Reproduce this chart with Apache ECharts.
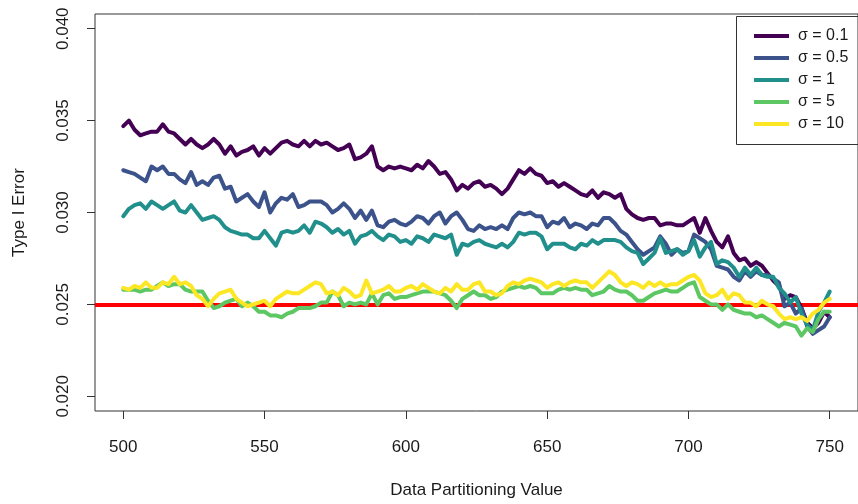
<!DOCTYPE html>
<html>
<head>
<meta charset="utf-8">
<title>Type I Error vs Data Partitioning Value</title>
<script src="https://cdn.jsdelivr.net/npm/echarts@6/dist/echarts.min.js"></script>
<style>
  html, body { margin: 0; padding: 0; background: #fff; }
  #chart { width: 858px; height: 504px; }
</style>
</head>
<body>
<div id="chart"></div>
<script>
// Partitioning values run from 500 to 750 in steps of 2
const partitionStart = 500;
const partitionStep = 2;

const sigmaLabels = ['σ = 0.1', 'σ = 0.5', 'σ = 1', 'σ = 5', 'σ = 10'];
const xTicks = [500, 550, 600, 650, 700, 750];
const yTicks = [0.020, 0.025, 0.030, 0.035, 0.040];
const nominalLevel = 0.025;

const sigma01 = [
  0.0347, 0.0350, 0.0345, 0.0342, 0.0343, 0.0344, 0.0344, 0.0348, 0.0344, 0.0343,
  0.0340, 0.0337, 0.0340, 0.0337, 0.0335, 0.0337, 0.0340, 0.0337, 0.0332, 0.0336,
  0.0331, 0.0333, 0.0334, 0.0336, 0.0331, 0.0335, 0.0332, 0.0335, 0.0338, 0.0339,
  0.0337, 0.0336, 0.0339, 0.0336, 0.0339, 0.0337, 0.0338, 0.0336, 0.0334, 0.0335,
  0.0337, 0.0329, 0.0330, 0.0332, 0.0336, 0.0325, 0.0323, 0.0325, 0.0324, 0.0325,
  0.0324, 0.0323, 0.0326, 0.0324, 0.0328, 0.0325, 0.0321, 0.0322, 0.0318, 0.0312,
  0.0315, 0.0313, 0.0316, 0.0317, 0.0314, 0.0315, 0.0313, 0.0310, 0.0313, 0.0318,
  0.0323, 0.0321, 0.0324, 0.0321, 0.0320, 0.0316, 0.0317, 0.0314, 0.0316, 0.0314,
  0.0312, 0.0310, 0.0309, 0.0312, 0.0308, 0.0311, 0.0310, 0.0308, 0.0310, 0.0302,
  0.0299, 0.0297, 0.0296, 0.0297, 0.0297, 0.0293, 0.0294, 0.0294, 0.0293, 0.0293,
  0.0295, 0.0297, 0.0289, 0.0297, 0.0290, 0.0284, 0.0281, 0.0287, 0.0278, 0.0274,
  0.0275, 0.0271, 0.0273, 0.0271, 0.0267, 0.0263, 0.0260, 0.0253, 0.0255, 0.0254,
  0.0248, 0.0240, 0.0237, 0.0240, 0.0246, 0.0243
];

const sigma05 = [
  0.0323, 0.0322, 0.0321, 0.0319, 0.0317, 0.0325, 0.0323, 0.0325, 0.0321, 0.0321,
  0.0318, 0.0316, 0.0322, 0.0315, 0.0317, 0.0315, 0.0319, 0.0320, 0.0313, 0.0314,
  0.0306, 0.0308, 0.0310, 0.0306, 0.0303, 0.0311, 0.0300, 0.0305, 0.0308, 0.0307,
  0.0310, 0.0303, 0.0304, 0.0306, 0.0306, 0.0306, 0.0304, 0.0300, 0.0302, 0.0305,
  0.0302, 0.0297, 0.0301, 0.0296, 0.0301, 0.0293, 0.0292, 0.0295, 0.0296, 0.0294,
  0.0293, 0.0295, 0.0298, 0.0297, 0.0294, 0.0298, 0.0300, 0.0294, 0.0298, 0.0300,
  0.0296, 0.0291, 0.0290, 0.0293, 0.0291, 0.0292, 0.0291, 0.0293, 0.0291, 0.0297,
  0.0300, 0.0299, 0.0300, 0.0298, 0.0298, 0.0292, 0.0295, 0.0294, 0.0297, 0.0292,
  0.0294, 0.0293, 0.0291, 0.0294, 0.0293, 0.0297, 0.0297, 0.0294, 0.0290, 0.0288,
  0.0284, 0.0280, 0.0277, 0.0279, 0.0281, 0.0287, 0.0283, 0.0277, 0.0280, 0.0278,
  0.0279, 0.0288, 0.0286, 0.0284, 0.0280, 0.0271, 0.0270, 0.0269, 0.0265, 0.0263,
  0.0268, 0.0265, 0.0268, 0.0266, 0.0266, 0.0264, 0.0262, 0.0249, 0.0251, 0.0245,
  0.0248, 0.0238, 0.0234, 0.0236, 0.0238, 0.0243
];

const sigma1 = [
  0.0298, 0.0302, 0.0304, 0.0305, 0.0302, 0.0306, 0.0304, 0.0302, 0.0304, 0.0306,
  0.0301, 0.0300, 0.0304, 0.0300, 0.0296, 0.0297, 0.0298, 0.0296, 0.0292, 0.0290,
  0.0289, 0.0288, 0.0288, 0.0286, 0.0286, 0.0290, 0.0286, 0.0282, 0.0289, 0.0290,
  0.0289, 0.0290, 0.0293, 0.0289, 0.0295, 0.0294, 0.0292, 0.0289, 0.0291, 0.0288,
  0.0290, 0.0283, 0.0287, 0.0288, 0.0290, 0.0287, 0.0285, 0.0288, 0.0287, 0.0284,
  0.0285, 0.0283, 0.0287, 0.0286, 0.0284, 0.0288, 0.0287, 0.0286, 0.0288, 0.0277,
  0.0283, 0.0282, 0.0284, 0.0285, 0.0283, 0.0282, 0.0281, 0.0283, 0.0281, 0.0284,
  0.0289, 0.0288, 0.0289, 0.0289, 0.0287, 0.0280, 0.0283, 0.0283, 0.0283, 0.0281,
  0.0280, 0.0283, 0.0282, 0.0285, 0.0283, 0.0285, 0.0285, 0.0285, 0.0284, 0.0281,
  0.0279, 0.0278, 0.0272, 0.0275, 0.0278, 0.0286, 0.0278, 0.0279, 0.0280, 0.0277,
  0.0279, 0.0285, 0.0276, 0.0281, 0.0284, 0.0272, 0.0274, 0.0273, 0.0270, 0.0265,
  0.0270, 0.0266, 0.0270, 0.0266, 0.0265, 0.0265, 0.0259, 0.0256, 0.0251, 0.0254,
  0.0245, 0.0239, 0.0236, 0.0246, 0.0251, 0.0257
];

const sigma5 = [
  0.0258, 0.0258, 0.0258, 0.0257, 0.0258, 0.0258, 0.0260, 0.0262, 0.0260, 0.0261,
  0.0261, 0.0258, 0.0257, 0.0257, 0.0257, 0.0252, 0.0248, 0.0249, 0.0251, 0.0252,
  0.0253, 0.0249, 0.0251, 0.0249, 0.0246, 0.0246, 0.0244, 0.0244, 0.0243, 0.0245,
  0.0246, 0.0248, 0.0248, 0.0248, 0.0249, 0.0251, 0.0251, 0.0257, 0.0255, 0.0249,
  0.0251, 0.0250, 0.0251, 0.0250, 0.0256, 0.0250, 0.0255, 0.0256, 0.0253, 0.0254,
  0.0254, 0.0255, 0.0256, 0.0257, 0.0257, 0.0257, 0.0256, 0.0255, 0.0252, 0.0248,
  0.0253, 0.0255, 0.0257, 0.0255, 0.0255, 0.0253, 0.0254, 0.0257, 0.0258, 0.0259,
  0.0260, 0.0259, 0.0260, 0.0259, 0.0256, 0.0256, 0.0256, 0.0258, 0.0259, 0.0258,
  0.0259, 0.0258, 0.0258, 0.0255, 0.0256, 0.0257, 0.0260, 0.0258, 0.0257, 0.0257,
  0.0255, 0.0252, 0.0252, 0.0254, 0.0256, 0.0257, 0.0258, 0.0257, 0.0257, 0.0259,
  0.0261, 0.0262, 0.0254, 0.0252, 0.0250, 0.0250, 0.0247, 0.0250, 0.0247, 0.0246,
  0.0245, 0.0245, 0.0243, 0.0244, 0.0242, 0.0240, 0.0238, 0.0240, 0.0239, 0.0238,
  0.0233, 0.0237, 0.0235, 0.0242, 0.0246, 0.0246
];

const sigma10 = [
  0.0259, 0.0258, 0.0260, 0.0259, 0.0262, 0.0259, 0.0259, 0.0262, 0.0261, 0.0265,
  0.0261, 0.0262, 0.0260, 0.0255, 0.0253, 0.0249, 0.0253, 0.0256, 0.0257, 0.0258,
  0.0253, 0.0251, 0.0249, 0.0250, 0.0251, 0.0252, 0.0249, 0.0253, 0.0255, 0.0257,
  0.0256, 0.0256, 0.0258, 0.0260, 0.0262, 0.0261, 0.0256, 0.0257, 0.0255, 0.0259,
  0.0257, 0.0254, 0.0255, 0.0263, 0.0256, 0.0257, 0.0258, 0.0260, 0.0257, 0.0257,
  0.0259, 0.0260, 0.0258, 0.0261, 0.0259, 0.0257, 0.0256, 0.0259, 0.0257, 0.0261,
  0.0258, 0.0258, 0.0261, 0.0262, 0.0257, 0.0257, 0.0255, 0.0256, 0.0260, 0.0262,
  0.0261, 0.0263, 0.0264, 0.0263, 0.0262, 0.0259, 0.0261, 0.0262, 0.0260, 0.0262,
  0.0263, 0.0262, 0.0262, 0.0259, 0.0262, 0.0265, 0.0268, 0.0266, 0.0262, 0.0260,
  0.0262, 0.0261, 0.0259, 0.0262, 0.0260, 0.0262, 0.0260, 0.0261, 0.0261, 0.0263,
  0.0265, 0.0266, 0.0263, 0.0256, 0.0254, 0.0255, 0.0258, 0.0253, 0.0256, 0.0255,
  0.0251, 0.0251, 0.0249, 0.0252, 0.0250, 0.0249, 0.0245, 0.0242, 0.0243, 0.0242,
  0.0243, 0.0241, 0.0245, 0.0247, 0.0251, 0.0253
];

const seriesValues = [sigma01, sigma05, sigma1, sigma5, sigma10];
const viridis = ['#440154', '#3B528B', '#21908C', '#5DC863', '#FDE725'];

const fontFamily = '"Liberation Sans", Arial, Helvetica, sans-serif';
const textColor = '#1a1a1a';
const frameColor = '#333333';

function withPartition(values) {
  return values.map((v, i) => [partitionStart + i * partitionStep, v]);
}

const chart = echarts.init(document.getElementById('chart'), null, { renderer: 'canvas' });

const lineSeries = seriesValues.map((values, k) => ({
  name: sigmaLabels[k],
  type: 'line',
  data: withPartition(values),
  showSymbol: false,
  symbol: 'none',
  smooth: false,
  z: 6,
  lineStyle: { color: viridis[k], width: 4, cap: 'round', join: 'round' },
  itemStyle: { color: viridis[k] },
  emphasis: { disabled: true },
  animation: false
}));

// Horizontal reference at the nominal level, kept beneath the curves.
// precision is raised so the level is not rounded to two decimals.
lineSeries[0].markLine = {
  silent: true,
  z: 1,
  precision: 6,
  symbol: ['none', 'none'],
  label: { show: false },
  lineStyle: { color: '#FF0000', width: 4, type: 'solid' },
  emphasis: { disabled: true },
  animation: false,
  data: [{ yAxis: nominalLevel }]
};

const option = {
  animation: false,
  backgroundColor: '#ffffff',
  grid: {
    left: 95,
    top: 14,
    width: 770,
    height: 403,
    show: true,
    borderColor: frameColor,
    borderWidth: 1,
    backgroundColor: 'transparent'
  },
  xAxis: {
    type: 'value',
    min: 490,
    max: 760,
    name: 'Data Partitioning Value',
    nameLocation: 'middle',
    nameGap: 71,
    nameTextStyle: { fontFamily, fontSize: 17, color: textColor },
    axisLine: { show: false },
    splitLine: { show: false },
    axisTick: {
      show: true,
      inside: false,
      length: 8,
      customValues: xTicks,
      lineStyle: { color: frameColor, width: 1 }
    },
    axisLabel: {
      customValues: xTicks,
      margin: 28,
      fontFamily,
      fontSize: 17,
      color: textColor
    }
  },
  yAxis: {
    type: 'value',
    min: 0.0192,
    max: 0.0408,
    name: 'Type I Error',
    nameLocation: 'middle',
    nameGap: 67,
    nameRotate: 90,
    nameTextStyle: { fontFamily, fontSize: 17, color: textColor },
    axisLine: { show: false },
    splitLine: { show: false },
    axisTick: {
      show: true,
      inside: false,
      length: 8,
      customValues: yTicks,
      lineStyle: { color: frameColor, width: 1 }
    },
    axisLabel: {
      customValues: yTicks,
      rotate: 90,
      margin: 23,
      fontFamily,
      fontSize: 17,
      color: textColor,
      formatter: (v) => v.toFixed(3)
    }
  },
  legend: {
    data: sigmaLabels,
    orient: 'vertical',
    left: 749,
    top: 23,
    itemWidth: 35,
    itemHeight: 4,
    itemGap: 6,
    icon: 'rect',
    selectedMode: false,
    textStyle: {
      fontFamily,
      fontSize: 16,
      color: textColor,
      lineHeight: 16,
      padding: [0, 0, 0, 4]
    }
  },
  graphic: [{
    type: 'rect',
    left: 734,
    top: 14,
    z: 1,
    silent: true,
    shape: { width: 140, height: 128 },
    style: { fill: null, stroke: frameColor, lineWidth: 1 }
  }],
  series: lineSeries
};

chart.setOption(option);
</script>
</body>
</html>
